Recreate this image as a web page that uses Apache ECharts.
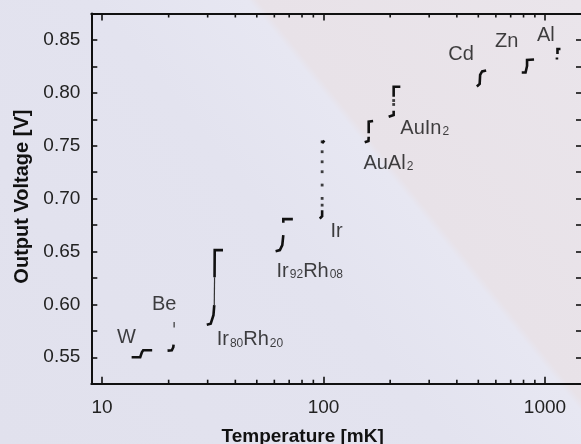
<!DOCTYPE html>
<html><head><meta charset="utf-8">
<script src="https://cdn.jsdelivr.net/npm/echarts@6/dist/echarts.min.js"></script>
<style>
html,body{margin:0;padding:0;}
body{width:581px;height:444px;overflow:hidden;background:linear-gradient(51deg,#e1e1ed 0%,#e3e3ef 48%,#e7e7f2 64.6%,#e8e2e8 65.6%,#eae5eb 100%);}
#c{width:581px;height:444px;}
</style></head><body><div id="c"></div>
<script>
// ---- data ----
const xTickValues = [10, 100, 1000];
const xMinorValues = [20, 30, 40, 50, 60, 70, 80, 90, 200, 300, 400, 500, 600, 700, 800, 900];
const yTickLabels = ['0.55', '0.60', '0.65', '0.70', '0.75', '0.80', '0.85'];

const materials = ['W', 'Be', 'Ir80Rh20', 'Ir92Rh08', 'Ir', 'AuAl2', 'AuIn2', 'Cd', 'Zn', 'Al'];
const labelAnchors = [[11.68, 0.5708], [16.8, 0.6020], [32.96, 0.5689], [61.4, 0.6333], [107.5, 0.6711],
  [151.4, 0.7355], [222.3, 0.7686], [365.6, 0.8377], [595.4, 0.8509], [920.4, 0.8557]];

// transition curves (temperature mK, output voltage V), dense parts
const wStep = [[[13.61, 0.5500], [14.88, 0.5500], [15.14, 0.5547], [15.35, 0.5566], [16.85, 0.5566]]];
const beStep = [[[19.77, 0.5563], [20.67, 0.5566], [20.99, 0.5595], [21.05, 0.5620]]];
const ir80Step = [[[29.72, 0.5808], [30.97, 0.5817], [31.86, 0.5897], [32.13, 0.5992]],
  [[32.23, 0.6257], [32.28, 0.6513], [35.19, 0.6513]]];
const ir92Step = [[[60.79, 0.6503], [63.57, 0.6513], [65.17, 0.6560], [65.86, 0.6655]],
  [[65.86, 0.6771], [65.86, 0.6806], [72.74, 0.6806]]];
const irStep = [[[96.2, 0.6811], [98.6, 0.6834], [98.6, 0.6891]], [[98.6, 0.7525], [101.0, 0.7549]]];
const auAlStep = [[[167.5, 0.7733], [160.0, 0.7727], [160.0, 0.7617]], [[160.0, 0.7585], [159.6, 0.7544], [153.5, 0.7532]]];
const auInStep = [[[222.3, 0.8058], [207.4, 0.8058], [207.4, 0.7963]], [[207.4, 0.7831], [207.4, 0.7790], [196.9, 0.7774]]];
const cdStep = [[[492.4, 0.8060], [507.0, 0.8084], [509.5, 0.8169], [520.2, 0.8202], [542.3, 0.8211]]];
const znStep = [[[785.2, 0.8192], [817.0, 0.8192], [829.8, 0.8254], [829.8, 0.8311], [842.7, 0.8315], [892.3, 0.8315]]];
const alStep = [[[1174.6, 0.8415], [1138.6, 0.8415], [1138.6, 0.8367]], [[1132, 0.8334], [1132, 0.8315]]];

// sparse parts
const beThin = [[21.17, 0.5781], [21.17, 0.5834]];
const ir80Thin = [[32.13, 0.5992], [32.23, 0.6257]];
const irDots = [[98.6, 0.7537], [98.6, 0.7443], [98.6, 0.7348], [98.6, 0.7254], [98.6, 0.7128], [98.6, 0.7002], [98.6, 0.6938]];
const auInDots = [[207.4, 0.7927], [207.4, 0.7890]];

// ---- chart ----
const FONT = '"Liberation Sans", Arial, Helvetica, sans-serif';
const INK = '#111';
const chart = echarts.init(document.getElementById('c'), null, {renderer: 'canvas'});

const allSteps = [wStep, beStep, ir80Step, ir92Step, irStep, auAlStep, auInStep, cdStep, znStep, alStep];
const series = [];
allSteps.forEach(segs => segs.forEach(seg => series.push({
  type: 'line', data: seg, showSymbol: false, silent: true, animation: false,
  lineStyle: {color: INK, width: 2.6, join: 'miter'}
})));
[beThin, ir80Thin].forEach(seg => series.push({
  type: 'line', data: seg, showSymbol: false, silent: true, animation: false,
  lineStyle: {color: '#333', width: 1.2}
}));
series.push({
  type: 'scatter', data: irDots.concat(auInDots), symbol: 'rect', symbolSize: 2.8,
  itemStyle: {color: INK}, silent: true, animation: false
});

function richName(n) {
  return n.replace(/([A-Za-z]+)|(\d+)/g, (m, a, d) => a ? '{m|' + a + '}' : '{s|' + d + '}');
}
series.push({
  type: 'scatter', symbolSize: 0, silent: true, animation: false,
  data: materials.map((n, i) => ({value: labelAnchors[i], name: n})),
  label: {
    show: true, position: 'inside', align: 'left', verticalAlign: 'middle',
    formatter: p => richName(p.name),
    rich: {
      m: {fontFamily: FONT, fontSize: 20, color: INK, lineHeight: 24, verticalAlign: 'bottom'},
      s: {fontFamily: FONT, fontSize: 12, color: INK, lineHeight: 15, verticalAlign: 'bottom', padding: [0, 0, 0, 1]}
    }
  }
});
// minor ticks on log axis (bottom + top)
series.push({
  type: 'custom', silent: true, animation: false,
  data: xMinorValues.map(v => [v, 0.7]),
  renderItem(params, api) {
    const x = api.coord([api.value(0), api.value(1)])[0];
    const cs = params.coordSys;
    const b = cs.y + cs.height;
    return {type: 'group', children: [
      {type: 'line', shape: {x1: x, y1: b, x2: x, y2: b - 4}, style: {stroke: INK, lineWidth: 1.6}},
      {type: 'line', shape: {x1: x, y1: cs.y, x2: x, y2: cs.y + 4}, style: {stroke: INK, lineWidth: 1.6}}
    ]};
  }
});

const xBase = {
  type: 'log', logBase: 10, min: 8.95, max: 1469,
  axisLine: {show: true, lineStyle: {color: INK, width: 2}},
  axisTick: {show: true, inside: true, length: 7, lineStyle: {color: INK, width: 1.6}},
  splitLine: {show: false}
};
const yBase = {
  type: 'value', min: 0.525, max: 0.875, interval: 0.025,
  axisLine: {show: true, lineStyle: {color: INK, width: 2}},
  axisTick: {show: true, inside: true, length: 6, lineStyle: {color: INK, width: 1.6}},
  splitLine: {show: false}
};

chart.setOption({
  animation: false,
  grid: {left: 91.3, top: 13.5, right: -1, bottom: 60.3, containLabel: false, outerBoundsMode: 'none'},
  xAxis: [
    Object.assign({}, xBase, {
      position: 'bottom',
      name: 'Temperature [mK]', nameLocation: 'middle', nameGap: 44,
      nameTextStyle: {fontFamily: FONT, fontSize: 19, fontWeight: 'bold', color: INK, padding: [0, 68, 0, 0]},
      axisLabel: {
        show: true, margin: 15, fontFamily: FONT, fontSize: 19, color: '#222',
        showMinLabel: false, showMaxLabel: false,
        formatter: v => {
          const r = xTickValues.find(t => Math.abs(t - v) / t < 1e-6);
          return r ? String(r) : '';
        }
      }
    }),
    Object.assign({}, xBase, {position: 'top', axisLabel: {show: false}})
  ],
  yAxis: [
    Object.assign({}, yBase, {
      position: 'left',
      name: 'Output Voltage [V]', nameLocation: 'middle', nameGap: 59, nameRotate: 90,
      nameTextStyle: {fontFamily: FONT, fontSize: 20, fontWeight: 'bold', color: INK, padding: [0, 0, 0, 4]},
      axisLabel: {
        show: true, margin: 11, fontFamily: FONT, fontSize: 19, color: '#222',
        formatter: v => {
          const s = v.toFixed(2);
          return yTickLabels.indexOf(s) >= 0 && Math.abs(v * 20 - Math.round(v * 20)) < 1e-6 ? s : '';
        }
      }
    }),
    Object.assign({}, yBase, {position: 'right', axisLabel: {show: false}})
  ],
  series: series
});
</script></body></html>
